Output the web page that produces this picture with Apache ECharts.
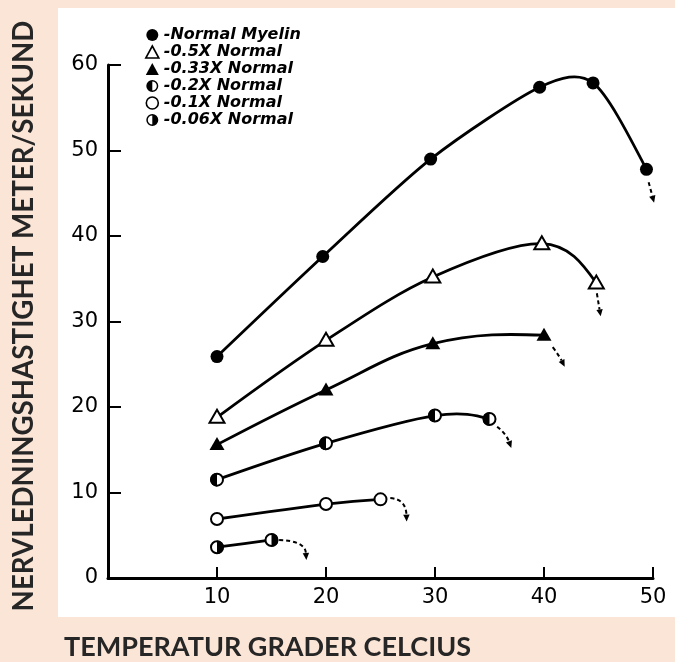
<!DOCTYPE html>
<html><head><meta charset="utf-8">
<script src="https://cdn.jsdelivr.net/npm/echarts@6/dist/echarts.min.js"></script>
<style>html,body{margin:0;padding:0;background:#fbe5d6;}#c{width:675px;height:662px;}</style>
</head><body><div id="c"></div>
<script>
// ---- data ----
const seriesNames = ['Normal Myelin','0.5X Normal','0.33X Normal','0.2X Normal','0.1X Normal','0.06X Normal'];
const tempNormal = [10, 19.7, 29.6, 39.6, 44.5, 49.4];
const velNormal  = [25.9, 37.6, 49.0, 57.4, 57.9, 47.8];
const temp05 = [10, 20, 29.8, 39.8, 44.8];
const vel05  = [18.8, 27.8, 35.2, 39.1, 34.5];
const temp033 = [10, 20, 29.8, 40];
const vel033  = [15.6, 22.0, 27.4, 28.4];
const temp02 = [10, 20, 30, 35];
const vel02  = [11.5, 15.75, 19.0, 18.6];
const temp01 = [10, 20, 25];
const vel01  = [6.9, 8.65, 9.2];
const temp006 = [10, 15];
const vel006  = [3.6, 4.45];
// dashed arrows after the last point: [startTemp, startVel, endTemp, endVel]
const arrowNormal = [49.6, 46.3, 50.1, 43.9];
const arrow05  = [44.85, 33.3, 45.2, 30.6];
const arrow033 = [40.8, 27.0, 41.9, 24.7];
const arrow02  = [35.7, 17.7, 37.0, 15.2];
const arrow01  = [25.9, 9.35, 27.4, 6.6];
const arrow006 = [15.7, 4.45, 18.2, 2.1];
const xTickLabels = ['', '10', '20', '30', '40', '50'];
const yTickLabels = ['0', '10', '20', '30', '40', '50', '60'];
const xTitle = 'TEMPERATUR GRADER CELCIUS';
const yTitle = 'NERVLEDNINGSHASTIGHET METER/SEKUND';

// ---- drawing helpers ----
function tangents(p, K) {
  const n = p.length, t = [];
  if (n === 2) {
    const d = [p[1][0]-p[0][0], p[1][1]-p[0][1]];
    return [d, d];
  }
  for (let i = 0; i < n; i++) t.push([0, 0]);
  for (let i = 1; i < n-1; i++) {
    t[i] = [K*(p[i+1][0]-p[i-1][0]), K*(p[i+1][1]-p[i-1][1])];
  }
  t[0] = [(3*(p[1][0]-p[0][0]) - t[1][0])/2, (3*(p[1][1]-p[0][1]) - t[1][1])/2];
  t[n-1] = [(3*(p[n-1][0]-p[n-2][0]) - t[n-2][0])/2, (3*(p[n-1][1]-p[n-2][1]) - t[n-2][1])/2];
  return t;
}
function markerShape(kind, c) {
  const x = c[0], y = c[1], r = 6.5;
  const tri = [[x, y-7.5], [x+7.5, y+5.5], [x-7.5, y+5.5]];
  switch (kind) {
    case 'fillCircle': return {type:'circle', shape:{cx:x, cy:y, r:r}, style:{fill:'#000'}};
    case 'openCircle': return {type:'circle', shape:{cx:x, cy:y, r:r-0.5}, style:{fill:'#fff', stroke:'#000', lineWidth:2}};
    case 'fillTri': return {type:'polygon', shape:{points:tri}, style:{fill:'#000'}};
    case 'openTri': return {type:'polygon', shape:{points:tri}, style:{fill:'#fff', stroke:'#000', lineWidth:2}};
    case 'halfLeft':
    case 'halfRight': {
      const s = kind === 'halfLeft' ? Math.PI/2 : -Math.PI/2;
      return {type:'group', children:[
        {type:'circle', shape:{cx:x, cy:y, r:r-0.5}, style:{fill:'#fff', stroke:'#000', lineWidth:2}},
        {type:'sector', shape:{cx:x, cy:y, r0:0, r:r+0.3, startAngle:s, endAngle:s+Math.PI, clockwise:true}, style:{fill:'#000'}}
      ]};
    }
  }
}
function arrowShapes(a, api, bend) {
  const s = api.coord([a[0], a[1]]), e = api.coord([a[2], a[3]]);
  const m = [(s[0]+e[0])/2, (s[1]+e[1])/2];
  const knee = [e[0], s[1]];
  const cp = [m[0] + (knee[0]-m[0])*bend, m[1] + (knee[1]-m[1])*bend];
  let dx = e[0]-cp[0], dy = e[1]-cp[1];
  const L = Math.sqrt(dx*dx+dy*dy) || 1; dx /= L; dy /= L;
  const hl = 7, hw = 3.2;
  const base = [e[0]-dx*hl, e[1]-dy*hl];
  const c1 = [s[0] + 2/3*(cp[0]-s[0]), s[1] + 2/3*(cp[1]-s[1])];
  const c2 = [base[0] + 2/3*(cp[0]-base[0]), base[1] + 2/3*(cp[1]-base[1])];
  return [
    {type:'bezierCurve', shape:{x1:s[0], y1:s[1], cpx1:c1[0], cpy1:c1[1], cpx2:c2[0], cpy2:c2[1], x2:base[0], y2:base[1]},
     style:{stroke:'#000', lineWidth:2, fill:'none', lineDash:[4,3]}},
    {type:'polygon', shape:{points:[[e[0], e[1]], [base[0]-dy*hw, base[1]+dx*hw], [base[0]+dy*hw, base[1]-dx*hw]]},
     style:{fill:'#000'}}
  ];
}
function makeSeries(name, xs, ys, marker, arrow, look) {
  const data = xs.map((x, i) => [x, ys[i]]);
  return {
    type:'custom', name: name, coordinateSystem:'cartesian2d', data: data,
    encode:{x:0, y:1}, clip:false, itemStyle:{color:'#000'},
    renderItem: function(params, api) {
      const i = params.dataIndex;
      const pts = data.map(d => api.coord(d));
      const tg = tangents(pts, look.tension);
      const children = [];
      if (i < pts.length-1) {
        const p0 = pts[i], p1 = pts[i+1], t0 = tg[i], t1 = tg[i+1];
        children.push({type:'bezierCurve', shape:{
          x1:p0[0], y1:p0[1], x2:p1[0], y2:p1[1],
          cpx1:p0[0]+t0[0]/3, cpy1:p0[1]+t0[1]/3, cpx2:p1[0]-t1[0]/3, cpy2:p1[1]-t1[1]/3},
          style:{stroke:'#000', lineWidth:2.8, fill:'none'}});
      }
      if (i === pts.length-1 && arrow) {
        arrowShapes(arrow, api, look.bend).forEach(c => children.push(c));
      }
      children.push(markerShape(marker, pts[i]));
      return {type:'group', children: children};
    }
  };
}

const halfLeftPath = 'path://M10,0A10,10,0,1,1,10,20A10,10,0,1,1,10,0ZM10,2.5L10,17.5A7.5,7.5,0,0,0,10,2.5Z';
const halfRightPath = 'path://M10,0A10,10,0,1,1,10,20A10,10,0,1,1,10,0ZM10,2.5A7.5,7.5,0,0,0,10,17.5L10,2.5Z';

const chart = echarts.init(document.getElementById('c'), null, {renderer:'canvas'});
chart.setOption({
  backgroundColor:'#fbe5d6',
  animation:false,
  grid:{left:108, right:22, top:65, bottom:84},
  xAxis:{type:'value', min:0, max:50, interval:10,
    axisLine:{show:true, lineStyle:{color:'#000', width:3}},
    axisTick:{show:true, inside:true, length:11, lineStyle:{color:'#000', width:2}},
    axisLabel:{color:'#000', fontFamily:'DejaVu Sans', fontSize:21, margin:9,
      formatter: v => xTickLabels[Math.round(v/10)]},
    splitLine:{show:false}},
  yAxis:{type:'value', min:0, max:60, interval:10,
    axisLine:{show:true, lineStyle:{color:'#000', width:3}},
    axisTick:{show:true, inside:true, length:13, lineStyle:{color:'#000', width:2}},
    axisLabel:{color:'#000', fontFamily:'DejaVu Sans', fontSize:21, margin:10,
      formatter: v => yTickLabels[Math.round(v/10)]},
    splitLine:{show:false}},
  legend:{orient:'vertical', left:140, top:22, itemWidth:13, itemHeight:12, itemGap:1,
    selectedMode:false, formatter: n => '-' + n,
    textStyle:{fontFamily:'DejaVu Sans', fontStyle:'italic', fontWeight:'bold', fontSize:16, color:'#000', lineHeight:13},
    data:[
      {name:seriesNames[0], icon:'circle', itemStyle:{color:'#000', borderWidth:0}},
      {name:seriesNames[1], icon:'triangle', itemStyle:{color:'#fff', borderColor:'#000', borderWidth:1.6}},
      {name:seriesNames[2], icon:'triangle', itemStyle:{color:'#000', borderWidth:0}},
      {name:seriesNames[3], icon:halfLeftPath, itemStyle:{color:'#000', borderWidth:0}},
      {name:seriesNames[4], icon:'circle', itemStyle:{color:'#fff', borderColor:'#000', borderWidth:1.6}},
      {name:seriesNames[5], icon:halfRightPath, itemStyle:{color:'#000', borderWidth:0}}
    ]},
  graphic:[
    {type:'rect', z:-10, silent:true, shape:{x:58, y:8, width:617, height:609}, style:{fill:'#fff'}},
    {type:'text', x:24, y:316, rotation:Math.PI/2, silent:true,
      style:{text:yTitle, font:'bold 27.7px Lato', fill:'#262626', textAlign:'center', textVerticalAlign:'middle'}},
    {type:'text', x:64, y:647, silent:true,
      style:{text:xTitle, font:'bold 27px Lato', fill:'#262626', textAlign:'left', textVerticalAlign:'middle'}}
  ],
  series:[
    makeSeries(seriesNames[0], tempNormal, velNormal, 'fillCircle', arrowNormal, {tension:0.4, bend:0}),
    makeSeries(seriesNames[1], temp05, vel05, 'openTri', arrow05, {tension:0.5, bend:0}),
    makeSeries(seriesNames[2], temp033, vel033, 'fillTri', arrow033, {tension:0.6, bend:0.1}),
    makeSeries(seriesNames[3], temp02, vel02, 'halfLeft', arrow02, {tension:0.5, bend:0.3}),
    makeSeries(seriesNames[4], temp01, vel01, 'openCircle', arrow01, {tension:0.5, bend:0.9}),
    makeSeries(seriesNames[5], temp006, vel006, 'halfRight', arrow006, {tension:0.5, bend:0.9})
  ]
});
</script></body></html>
